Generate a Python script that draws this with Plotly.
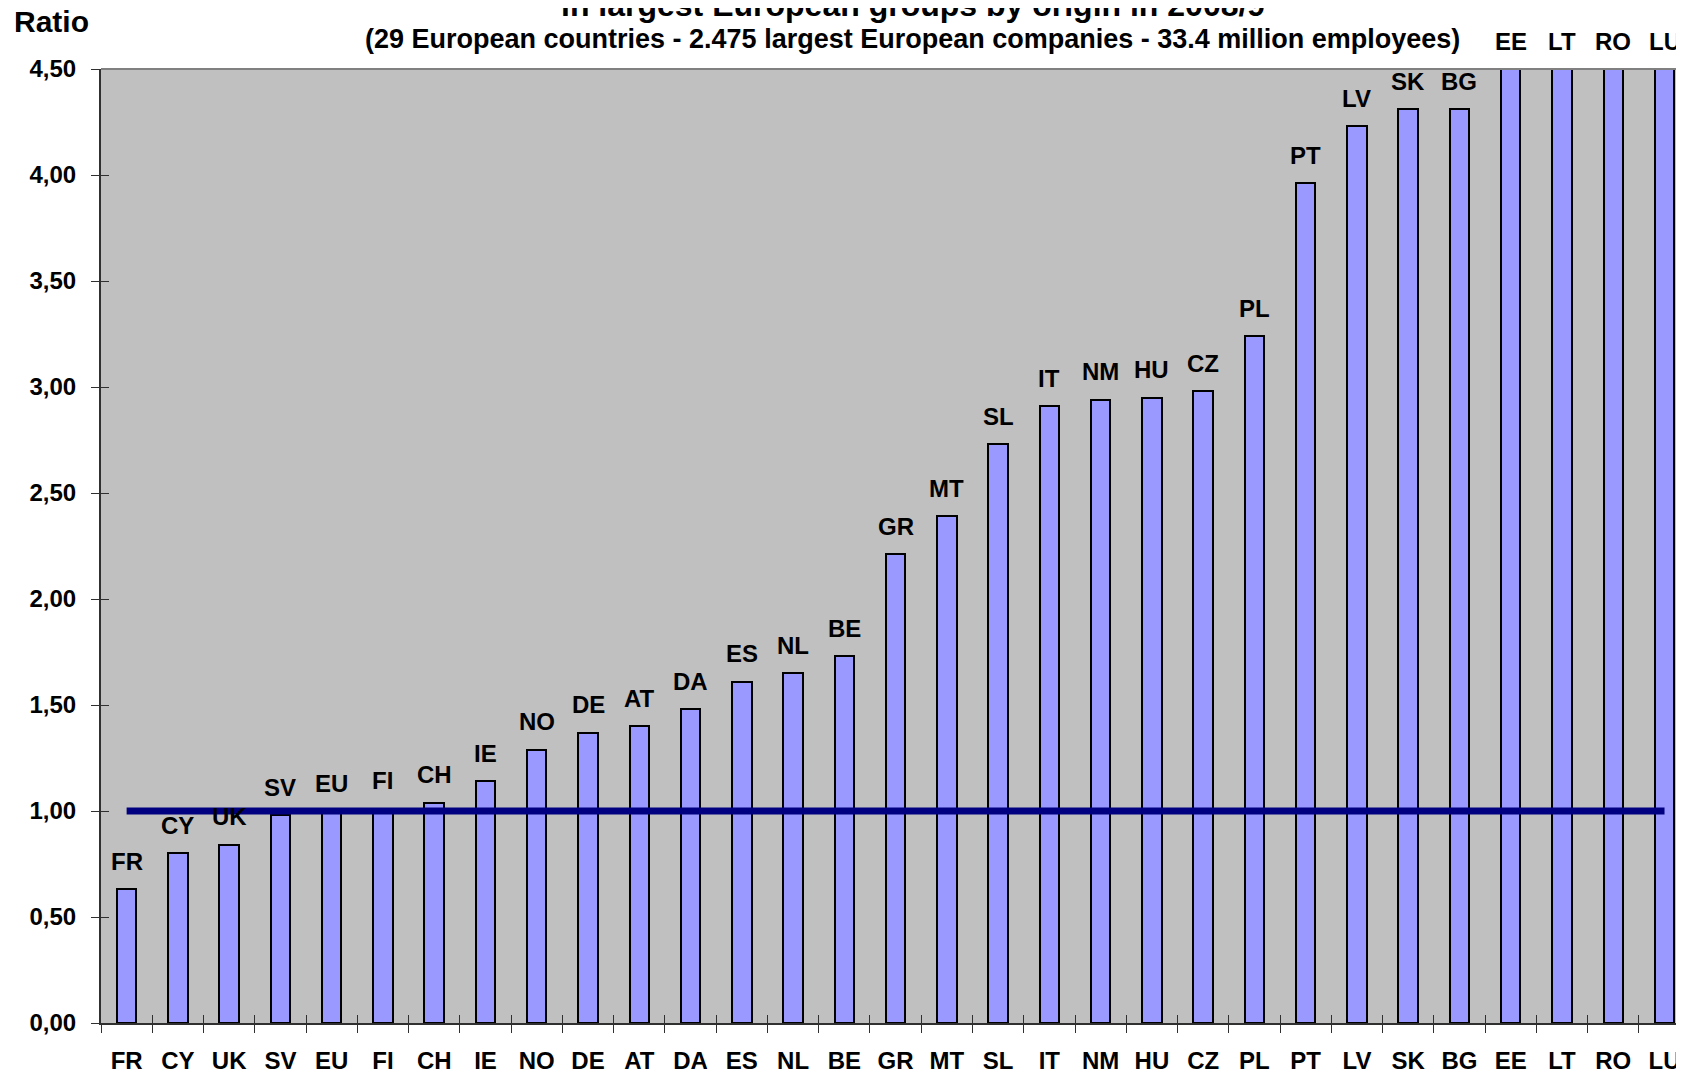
import plotly.graph_objects as go

# ---- data ----
countries = ["FR", "CY", "UK", "SV", "EU", "FI", "CH", "IE", "NO", "DE", "AT", "DA", "ES", "NL", "BE",
             "GR", "MT", "SL", "IT", "NM", "HU", "CZ", "PL", "PT", "LV", "SK", "BG", "EE", "LT", "RO", "LU"]
ratios = [0.63, 0.80, 0.84, 0.98, 1.00, 1.01, 1.04, 1.14, 1.29, 1.37, 1.40, 1.48, 1.61, 1.65, 1.73,
          2.21, 2.39, 2.73, 2.91, 2.94, 2.95, 2.98, 3.24, 3.96, 4.23, 4.31, 4.31, 4.80, 5.00, 5.30, 6.00]
reference_level = [1.0] * len(countries)
y_max = 4.5
y_ticks = [0.0, 0.5, 1.0, 1.5, 2.0, 2.5, 3.0, 3.5, 4.0, 4.5]

title_line1 = "in largest European groups by origin in 2008/9"
title_line2 = "(29 European countries - 2.475 largest European companies - 33.4 million employees)"
y_title = "Ratio"

FONT = "Liberation Sans, Arial, Helvetica, sans-serif"

fig = go.Figure()
fig.add_trace(go.Bar(
    x=countries, y=ratios, width=0.38,
    marker=dict(color="#9999FF", line=dict(color="#000000", width=2)),
    showlegend=False, hoverinfo="x+y",
))
fig.add_trace(go.Scatter(
    x=countries, y=reference_level, mode="lines",
    line=dict(color="#000080", width=7),
    showlegend=False, hoverinfo="skip",
))

annotations = []
for c, v in zip(countries, ratios):
    annotations.append(dict(
        x=c, y=min(v, y_max), xref="x", yref="y", text=c, showarrow=False,
        yanchor="middle", yshift=28,
        font=dict(family=FONT, size=24, color="#000000", weight="bold"),
    ))
annotations += [
    dict(x=0.5, y=1, xref="paper", yref="paper", text=title_line1, showarrow=False,
         xanchor="center", yanchor="middle", xshift=20, yshift=64,
         font=dict(family=FONT, size=32, color="#000000", weight="bold")),
    dict(x=0.5, y=1, xref="paper", yref="paper", text=title_line2, showarrow=False,
         xanchor="center", yanchor="middle", xshift=20, yshift=30,
         font=dict(family=FONT, size=27, color="#000000", weight="bold")),
    dict(x=0, y=1, xref="paper", yref="paper", text=y_title, showarrow=False,
         xanchor="center", yanchor="middle", xshift=-50, yshift=48,
         font=dict(family=FONT, size=30, color="#000000", weight="bold")),
]

axis_font = dict(family=FONT, size=24, color="#000000", weight="bold")

fig.update_layout(
    width=1676, height=1069,
    margin=dict(l=93, r=0, t=61, b=54),
    paper_bgcolor="#FFFFFF", plot_bgcolor="#C0C0C0",
    separators=", ",
    bargap=0,
    annotations=annotations,
    xaxis=dict(
        type="category", categoryorder="array", categoryarray=countries,
        range=[-0.5, 30.38],
        showgrid=False, zeroline=False,
        showline=True, linecolor="#303030", linewidth=2,
        ticks="outside", ticklen=8, tickcolor="#303030", tickwidth=1,
        tickson="boundaries", ticklabelstandoff=15,
        tickfont=axis_font,
    ),
    yaxis=dict(
        range=[0, y_max], tickvals=y_ticks, tickformat=".2f",
        showgrid=False, zeroline=False,
        showline=True, linecolor="#303030", linewidth=2,
        ticks="outside", ticklen=8, tickcolor="#303030", tickwidth=1,
        ticklabelstandoff=10,
        tickfont=axis_font,
    ),
    xaxis2=dict(
        type="category", categoryorder="array", categoryarray=countries,
        matches="x", overlaying="x", side="bottom",
        showgrid=False, zeroline=False, showline=False, showticklabels=False,
        ticks="inside", ticklen=8, tickcolor="#303030", tickwidth=1,
        tickson="boundaries",
    ),
    yaxis2=dict(
        matches="y", overlaying="y", side="left", tickvals=y_ticks,
        showgrid=False, zeroline=False, showline=False, showticklabels=False,
        ticks="inside", ticklen=8, tickcolor="#303030", tickwidth=1,
    ),
    shapes=[dict(type="line", xref="paper", yref="paper", x0=0, x1=1, y0=1, y1=1,
                 line=dict(color="#808080", width=2), layer="above")],
)
# invisible helper trace to activate the overlay axes (cross ticks)
fig.add_trace(go.Scatter(x=[countries[0]], y=[reference_level[0]], xaxis="x2", yaxis="y2",
                         mode="markers", marker=dict(opacity=0), showlegend=False, hoverinfo="skip"))

fig.write_html("out.html")
